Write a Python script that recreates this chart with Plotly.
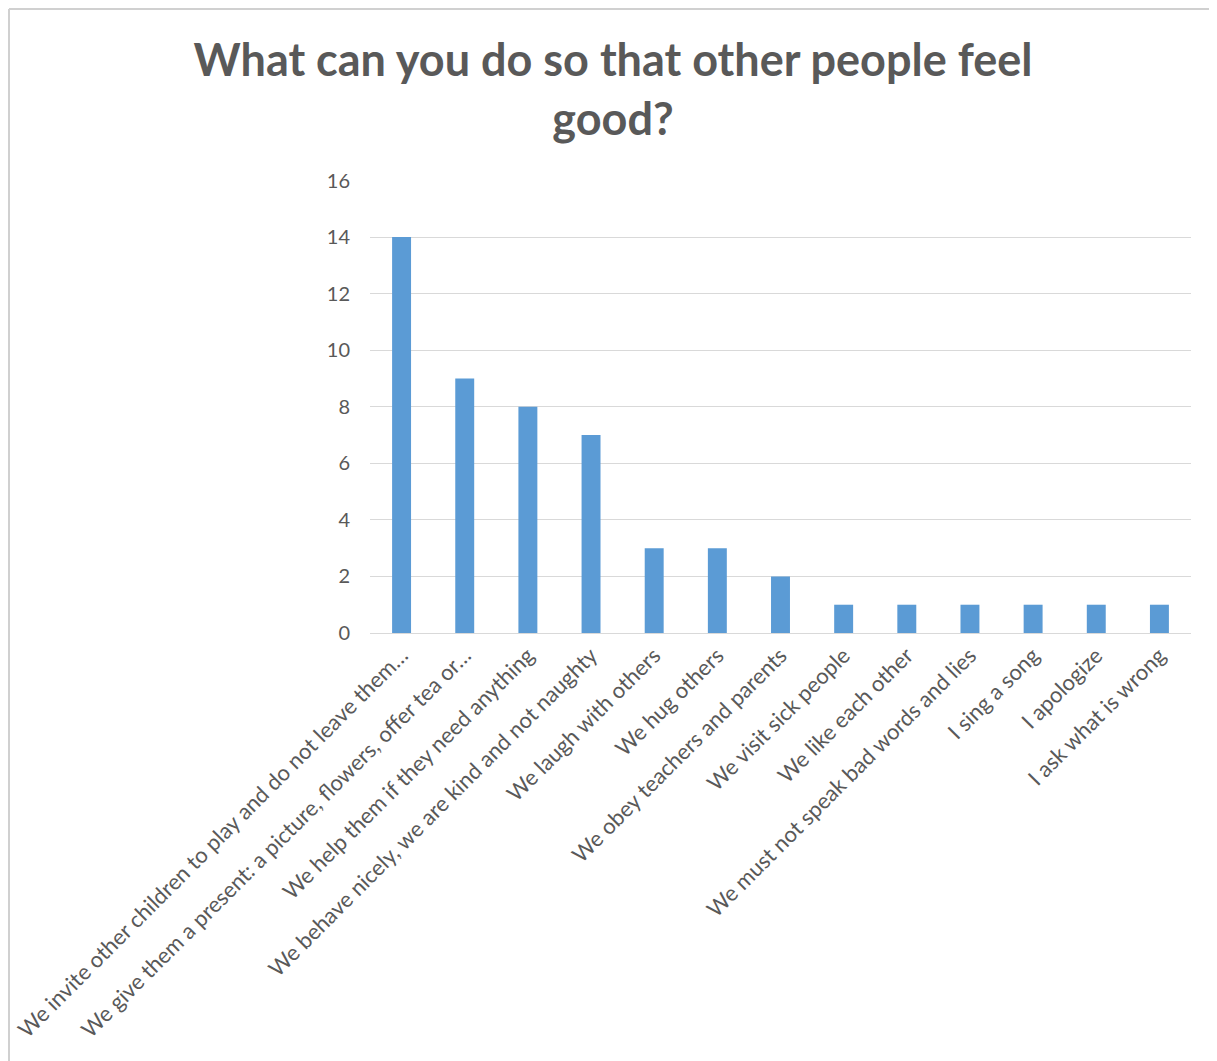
import plotly.graph_objects as go

categories = [
    "We invite other children to play and do not leave them…",
    "We give them a present: a picture, flowers, offer tea or…",
    "We help them if they need anything",
    "We behave nicely, we are kind and not naughty",
    "We laugh with others",
    "We hug others",
    "We obey teachers and parents",
    "We visit sick people",
    "We like each other",
    "We must not speak bad words and lies",
    "I sing a song",
    "I apologize",
    "I ask what is wrong",
]
values = [14, 9, 8, 7, 3, 3, 2, 1, 1, 1, 1, 1, 1]
y_ticks = [0, 2, 4, 6, 8, 10, 12, 14, 16]

# page body has an 8px offset; figure coordinates below compensate for it
OFF = 8
W, H = 1217 - OFF, 1061 - OFF
L, T = 370 - OFF, 180 - OFF
PR, PB = 1191 - OFF, 633 - OFF
R, B = W - PR, H - PB
pw, ph = W - L - R, H - T - B

fig = go.Figure(go.Bar(x=categories, y=values, marker=dict(color="#5B9BD5", line=dict(width=0))))

def px2paper_x(px):
    return (px - L) / pw

def py2paper_y(py):
    return (H - B - py) / ph

fig.update_layout(
    width=W, height=H,
    margin=dict(l=L, r=R, t=T, b=B),
    paper_bgcolor="white", plot_bgcolor="white",
    bargap=0.7,
    showlegend=False,
    title=dict(
        text="<b>What can you do so that other people feel<br>good?</b>",
        x=(613 - OFF) / W, xref="container", xanchor="center",
        y=1 - 68 / H, yref="container", yanchor="top",
        font=dict(family="Lato, Open Sans, sans-serif", size=45, color="#595959"),
    ),
    font=dict(family="Lato, Open Sans, sans-serif", color="#595959"),
    xaxis=dict(
        tickangle=-45, tickfont=dict(size=22, color="#595959"),
        showgrid=False, showline=True, linecolor="#d9d9d9", linewidth=1,
        ticks="", automargin=False,
    ),
    yaxis=dict(
        range=[0, 16.02], tickvals=y_ticks, tickfont=dict(size=20, color="#595959"),
        showgrid=True, gridcolor="#d9d9d9", gridwidth=1, zeroline=False,
        showline=False, ticks="", ticklabelstandoff=19, automargin=False,
    ),
    shapes=[
        dict(type="line", xref="paper", yref="paper",
             x0=px2paper_x(1), x1=px2paper_x(1), y0=py2paper_y(1), y1=py2paper_y(H + 5),
             line=dict(color="#d0d0d0", width=2)),
        dict(type="line", xref="paper", yref="paper",
             x0=px2paper_x(1), x1=px2paper_x(W + 5), y0=py2paper_y(1), y1=py2paper_y(1),
             line=dict(color="#d0d0d0", width=2)),
    ],
)

fig.write_html("out.html")
